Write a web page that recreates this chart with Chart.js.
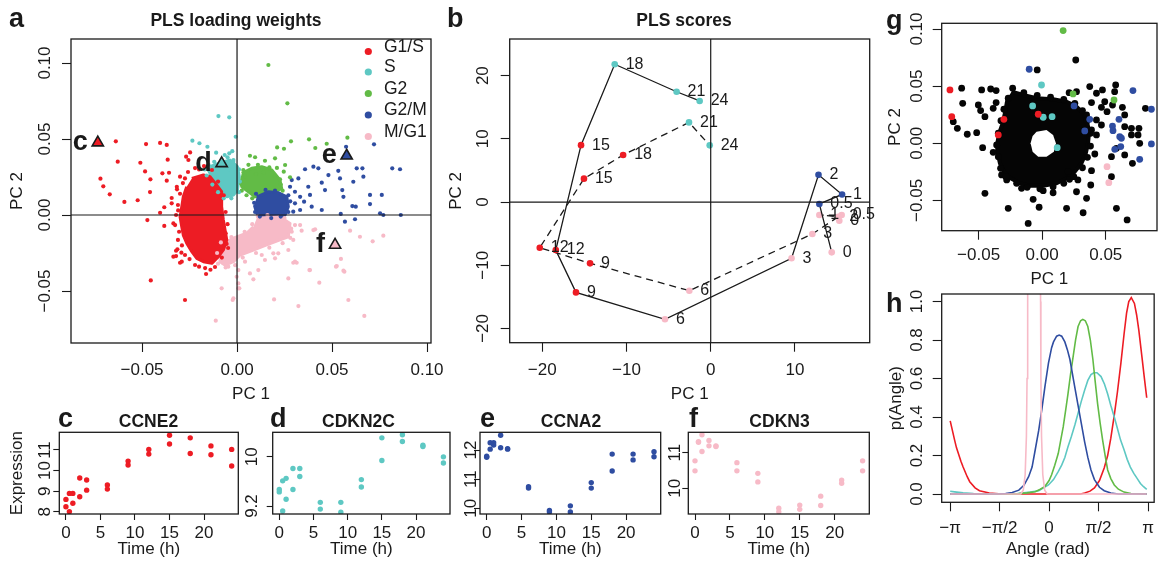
<!DOCTYPE html>
<html>
<head>
<meta charset="utf-8">
<title>PLS loading weights and scores</title>
<script src="https://cdn.jsdelivr.net/npm/chart.js@4.4.1/dist/chart.umd.min.js"></script>
<style>
  html, body { margin: 0; padding: 0; background: #fff; }
  #wrap { position: relative; width: 1161px; height: 562px; overflow: hidden; background: #fff; }
  #wrap canvas { position: absolute; left: 0; top: 0; }
</style>
</head>
<body>
<div id="wrap">
  <canvas id="pa" width="1161" height="562"></canvas>
  <canvas id="pb" width="1161" height="562"></canvas>
  <canvas id="pg" width="1161" height="562"></canvas>
  <canvas id="ph" width="1161" height="562"></canvas>
  <canvas id="pc" width="1161" height="562"></canvas>
  <canvas id="pd" width="1161" height="562"></canvas>
  <canvas id="pe" width="1161" height="562"></canvas>
  <canvas id="pf" width="1161" height="562"></canvas>
</div>
<script>
// ---------- data ----------
const PHASES = ['G1/S', 'S', 'G2', 'G2/M', 'M/G1'];

// panel a: loading weights [PC1, PC2]
const A_XTICKS = [-0.05, 0, 0.05, 0.10];
const A_YTICKS = [-0.05, 0, 0.05, 0.10];
const A_G1S = [[-0.0638,0.0485],[-0.0479,0.0467],[-0.0405,0.0474],[-0.0370,0.0461],[-0.0628,0.0351],[-0.0509,0.0344],[-0.0365,0.0364],[-0.0719,0.0239],[-0.0704,0.0189],[-0.0670,0.0136],[-0.0593,0.0086],[-0.0523,0.0097],[-0.0484,0.0287],[-0.0456,0.0235],[-0.0458,0.0151],[-0.0393,0.0274],[-0.0358,0.0278],[-0.0370,0.0226],[-0.0316,0.0169],[-0.0344,0.0112],[-0.0383,0.0051],[-0.0405,0.0015],[-0.0472,-0.0033],[-0.0383,-0.0072],[-0.0335,-0.0055],[-0.0314,-0.0226],[-0.0321,-0.0270],[-0.0293,-0.0248],[-0.0300,-0.0314],[-0.0163,-0.0388],[-0.0454,-0.0430],[-0.0274,-0.0559],[-0.0268,0.0384],[-0.0247,0.0412],[-0.0256,0.0362],[-0.0300,0.0252],[-0.0274,0.0241],[-0.0317,0.0186],[-0.0344,0.0077],[-0.0335,-0.0274],[-0.0321,-0.0235],[-0.0291,-0.0307],[-0.0326,-0.0066],[-0.0311,-0.0164],[-0.0274,-0.0263],[-0.0221,-0.0329],[-0.0168,-0.0349],[-0.0116,-0.0342],[-0.0047,-0.0217],[-0.0311,0.0066],[-0.0321,0.0000],[-0.0258,0.0283],[-0.0221,0.0309],[-0.0174,0.0322],[-0.0132,0.0296],[-0.0060,-0.0120],[-0.0055,-0.0190],[-0.0080,-0.0280],[-0.0140,-0.0360],[-0.0200,-0.0340],[-0.0250,-0.0290],[-0.0290,-0.0200],[-0.0305,-0.0110],[-0.0310,0.0030],[-0.0300,0.0140],[-0.0285,0.0210],[-0.0200,0.0300],[-0.0100,0.0220],[-0.0070,0.0130],[-0.0060,0.0020],[-0.0050,-0.0060]];
const A_S = [[-0.0098,0.0651],[-0.0041,0.0643],[-0.0007,0.0515],[-0.0235,0.0489],[-0.0198,0.0472],[-0.0156,0.0449],[-0.0041,0.0406],[-0.0019,0.0362],[-0.0150,0.0330],[-0.0120,0.0350],[-0.0080,0.0360],[-0.0050,0.0380],[-0.0020,0.0350],[0.0010,0.0300],[0.0015,0.0220],[0.0010,0.0150],[-0.0030,0.0110],[-0.0070,0.0110],[-0.0100,0.0150],[-0.0130,0.0200],[-0.0160,0.0260],[-0.0170,0.0300],[-0.0110,0.0410],[-0.0065,0.0395],[-0.0025,0.0420],[0.0005,0.0260],[-0.0040,0.0300]];
const A_G2 = [[0.0165,0.0987],[0.0265,0.0735],[0.0211,0.0445],[0.0247,0.0436],[0.0284,0.0485],[0.0379,0.0498],[0.0412,0.0441],[0.0472,0.0469],[0.0581,0.0509],[0.0068,0.0390],[0.0095,0.0380],[0.0147,0.0357],[0.0200,0.0373],[0.0170,0.0314],[0.0253,0.0329],[0.0246,0.0285],[0.0033,0.0296],[0.0042,0.0252],[0.0200,0.0257],[0.0226,0.0235],[0.0279,0.0248],[0.0020,0.0210],[0.0025,0.0160],[0.0050,0.0130],[0.0080,0.0110],[0.0110,0.0330],[0.0140,0.0280],[0.0230,0.0200],[0.0240,0.0160],[0.0060,0.0330],[0.0100,0.0270],[0.0210,0.0310]];
const A_G2M = [[0.0721,0.0465],[0.0574,0.0449],[0.0358,0.0301],[0.0402,0.0318],[0.0428,0.0307],[0.0481,0.0263],[0.0533,0.0291],[0.0630,0.0307],[0.0660,0.0307],[0.0817,0.0307],[0.0858,0.0301],[0.0542,0.0241],[0.0612,0.0219],[0.0665,0.0252],[0.0323,0.0241],[0.0375,0.0186],[0.0446,0.0213],[0.0463,0.0164],[0.0554,0.0164],[0.0560,0.0120],[0.0332,0.0120],[0.0384,0.0132],[0.0305,0.0153],[0.0353,0.0088],[0.0393,0.0055],[0.0446,0.0033],[0.0607,0.0059],[0.0625,0.0055],[0.0700,0.0132],[0.0762,0.0132],[0.0700,0.0072],[0.0753,0.0011],[0.0770,0.0000],[0.0862,0.0000],[0.0546,0.0007],[0.0568,-0.0044],[0.0621,-0.0028],[0.0288,0.0230],[0.0279,0.0186],[0.0305,0.0077],[0.0296,0.0022],[0.0332,0.0033],[0.0100,0.0140],[0.0090,0.0080],[0.0095,0.0020],[0.0120,-0.0010],[0.0180,-0.0020],[0.0230,-0.0010],[0.0270,0.0020],[0.0280,0.0090],[0.0270,0.0130],[0.0150,0.0165],[0.0200,0.0160]];
const A_MG1 = [[0.0305,-0.0066],[0.0332,-0.0066],[0.0411,-0.0094],[0.0595,-0.0103],[0.0647,-0.0143],[0.0714,-0.0173],[0.0770,-0.0136],[0.0547,-0.0289],[0.0521,-0.0340],[0.0560,-0.0366],[0.0381,-0.0362],[0.0305,-0.0307],[0.0314,-0.0314],[0.0433,-0.0445],[0.0270,-0.0417],[0.0195,-0.0555],[0.0323,-0.0599],[0.0586,-0.0559],[0.0670,-0.0664],[0.0147,-0.0296],[0.0112,-0.0362],[0.0068,-0.0384],[0.0086,-0.0423],[0.0042,-0.0307],[0.0007,-0.0362],[-0.0002,-0.0406],[0.0007,-0.0450],[0.0007,-0.0482],[-0.0019,-0.0548],[0.0340,-0.0103],[0.0288,-0.0110],[0.0296,-0.0164],[0.0270,-0.0230],[0.0217,-0.0252],[0.0200,-0.0285],[-0.0072,-0.0318],[-0.0081,-0.0482],[-0.0023,-0.0559],[-0.0112,-0.0695],[-0.0046,-0.0340],[0.0012,-0.0482],[0.0296,-0.0314],[0.0384,-0.0362],[0.0525,-0.0336],[0.0565,-0.0373],[0.0402,-0.0099],[0.0130,-0.0263],[0.0191,-0.0252],[0.0110,-0.0010],[0.0160,0.0000],[0.0250,-0.0020],[0.0285,-0.0090],[0.0280,-0.0150],[0.0240,-0.0185],[0.0170,-0.0215],[0.0100,-0.0250],[0.0030,-0.0280],[-0.0010,-0.0330],[-0.0060,-0.0345],[-0.0100,-0.0320],[-0.0105,-0.0250],[-0.0085,-0.0180],[-0.0030,-0.0145],[0.0040,-0.0110],[0.0080,-0.0060]];
// outlines of the densest part of each cloud
const A_G1S_CORE = [[-0.0238,0.0241],[-0.0177,0.0263],[-0.0142,0.0252],[-0.0107,0.0197],[-0.0081,0.0153],[-0.0081,0.0055],[-0.0072,-0.0033],[-0.0063,-0.0099],[-0.0054,-0.0164],[-0.0072,-0.0230],[-0.0098,-0.0274],[-0.0133,-0.0318],[-0.0177,-0.0307],[-0.0212,-0.0285],[-0.0238,-0.0241],[-0.0265,-0.0186],[-0.0283,-0.0132],[-0.0291,-0.0077],[-0.0300,-0.0011],[-0.0291,0.0055],[-0.0283,0.0120],[-0.0265,0.0186]];
const A_S_CORE = [[-0.0142,0.0318],[-0.0098,0.0340],[-0.0037,0.0362],[0.0002,0.0318],[0.0012,0.0252],[0.0002,0.0164],[-0.0019,0.0132],[-0.0054,0.0120],[-0.0081,0.0153],[-0.0107,0.0197],[-0.0133,0.0252],[-0.0151,0.0296]];
const A_G2_CORE = [[0.0025,0.0274],[0.0077,0.0307],[0.0130,0.0318],[0.0183,0.0296],[0.0226,0.0230],[0.0235,0.0175],[0.0183,0.0142],[0.0130,0.0120],[0.0095,0.0120],[0.0060,0.0153],[0.0025,0.0186],[0.0016,0.0230]];
const A_G2M_CORE = [[0.0104,0.0120],[0.0165,0.0153],[0.0217,0.0147],[0.0262,0.0120],[0.0270,0.0055],[0.0253,0.0000],[0.0200,-0.0015],[0.0147,-0.0011],[0.0104,0.0011],[0.0091,0.0066]];
const A_MG1_CORE = [[0.0104,-0.0022],[0.0226,-0.0011],[0.0279,-0.0055],[0.0270,-0.0143],[0.0226,-0.0164],[0.0156,-0.0197],[0.0086,-0.0230],[0.0016,-0.0263],[-0.0019,-0.0307],[-0.0063,-0.0329],[-0.0089,-0.0307],[-0.0093,-0.0252],[-0.0072,-0.0186],[-0.0019,-0.0153],[0.0051,-0.0120],[0.0086,-0.0077]];
const A_MARK = [[-0.0733,0.0476],[-0.0081,0.0340],[0.0577,0.0390],[0.0516,-0.0197]];
const A_MARK_LABELS = ['c', 'd', 'e', 'f'];
const A_MARK_PHASE = ['G1/S', 'S', 'G2/M', 'M/G1'];

// panel b: PLS scores of the two time courses
const B_TIMES = ['0', '0.5', '1', '2', '3', '6', '9', '12', '15', '18', '21', '24'];
const B_SOLID_X = [14.37, 12.9, 15.6, 12.8, 9.6, -5.43, -16.0, -18.4, -15.4, -11.4, -4.05, -1.31];
const B_SOLID_Y = [-7.96, -0.3, 1.2, 4.3, -8.9, -18.56, -14.3, -7.6, 9.0, 21.8, 17.45, 16.0];
const B_SOLID_PHASE = ['M/G1', 'G2/M', 'G2/M', 'G2/M', 'M/G1', 'M/G1', 'G1/S', 'G1/S', 'G1/S', 'S', 'S', 'S'];
const B_DASH_X = [15.27, 15.55, 12.9, 15.16, 12.07, -2.54, -14.33, -20.3, -15.05, -10.4, -2.58, -0.12];
const B_DASH_Y = [-2.95, -2.06, -2.06, -2.32, -5.06, -14.03, -9.7, -7.23, 3.7, 7.44, 12.6, 8.97];
const B_DASH_PHASE = ['M/G1', 'M/G1', 'M/G1', 'M/G1', 'M/G1', 'M/G1', 'G1/S', 'G1/S', 'G1/S', 'G1/S', 'S', 'S'];
const B_XTICKS = [-20, -10, 0, 10];
const B_YTICKS = [-20, -10, 0, 10, 20];

// panel g: all genes, black; marker genes coloured
const G_TICKS_X = [-0.05, 0, 0.05];
const G_TICKS_Y = [-0.05, 0, 0.05, 0.10];
const G_OTHER = [[-0.0633,0.0482],[-0.0476,0.0467],[-0.0405,0.0475],[-0.0362,0.0461],[-0.0625,0.0350],[-0.0502,0.0335],[-0.0484,0.0286],[-0.0450,0.0233],[-0.0699,0.0189],[-0.0667,0.0131],[-0.0589,0.0079],[-0.0515,0.0093],[-0.0468,-0.0038],[-0.0385,-0.0079],[-0.0362,0.0356],[-0.0385,0.0306],[-0.0450,-0.0438],[-0.0267,-0.0569],[-0.0110,-0.0701],[-0.0071,-0.0490],[-0.0024,-0.0560],[0.0008,-0.0415],[0.0086,-0.0433],[0.0192,-0.0569],[0.0270,-0.0424],[0.0322,-0.0608],[0.0382,-0.0365],[0.0388,-0.0240],[0.0414,-0.0094],[0.0215,-0.0315],[0.0281,-0.0321],[0.0204,-0.0248],[0.0584,-0.0569],[0.0668,-0.0671],[0.0545,-0.0292],[0.0584,-0.0044],[0.0649,-0.0102],[0.0710,-0.0175],[0.0767,0.0000],[0.0754,0.0073],[0.0702,0.0073],[0.0761,0.0131],[0.0702,0.0131],[0.0649,0.0145],[0.0631,0.0315],[0.0649,0.0248],[0.0812,0.0306],[0.0578,0.0510],[0.0570,0.0452],[0.0553,0.0335],[0.0510,0.0277],[0.0466,0.0315],[0.0492,0.0364],[0.0427,0.0438],[0.0474,0.0467],[0.0374,0.0496],[0.0388,0.0356],[0.0349,0.0248],[0.0427,0.0204],[0.0466,0.0160],[0.0388,0.0117],[0.0427,0.0073],[0.0270,0.0452],[0.0212,0.0443],[0.0264,0.0729],[-0.0039,0.0642],[0.0545,-0.0117],[0.0349,-0.0482],[-0.0162,-0.0394],[-0.0319,-0.0277],[-0.0279,-0.0321],[-0.0345,-0.0117],[-0.0327,-0.0219],[-0.0285,-0.0292],[-0.0201,-0.0350],[-0.0118,-0.0385],[-0.0018,-0.0398],[0.0086,-0.0380],[0.0170,-0.0350],[0.0249,-0.0292],[0.0317,-0.0214],[0.0356,-0.0123],[0.0380,-0.0024],[0.0380,0.0088],[0.0353,0.0198],[0.0317,0.0286],[0.0257,0.0350],[0.0170,0.0385],[0.0066,0.0403],[-0.0039,0.0420],[-0.0144,0.0443],[-0.0232,0.0482],[-0.0267,0.0394],[-0.0301,0.0298],[-0.0324,0.0198],[-0.0345,0.0088],[-0.0358,-0.0015]];
const G_CORE = [[-0.0240,0.0452],[-0.0149,0.0423],[-0.0044,0.0394],[0.0086,0.0385],[0.0192,0.0364],[0.0270,0.0321],[0.0322,0.0263],[0.0353,0.0189],[0.0369,0.0102],[0.0361,0.0000],[0.0343,-0.0088],[0.0309,-0.0175],[0.0257,-0.0248],[0.0192,-0.0306],[0.0113,-0.0350],[0.0008,-0.0371],[-0.0097,-0.0371],[-0.0175,-0.0350],[-0.0248,-0.0306],[-0.0301,-0.0248],[-0.0332,-0.0175],[-0.0350,-0.0088],[-0.0353,0.0000],[-0.0338,0.0088],[-0.0311,0.0175],[-0.0293,0.0263],[-0.0279,0.0350],[-0.0267,0.0408]];
const G_HOLE = [[-0.0044,0.0102],[0.0034,0.0117],[0.0086,0.0073],[0.0108,0.0000],[0.0092,-0.0073],[0.0034,-0.0117],[-0.0031,-0.0117],[-0.0075,-0.0073],[-0.0091,0.0000],[-0.0075,0.0064]];
const G_G1S = [[-0.0725,0.0467],[-0.0711,0.0233],[-0.0301,0.0210],[-0.0345,0.0073],[-0.0031,0.0254]];
const G_S = [[-0.0005,0.0510],[-0.0075,0.0327],[0.0008,0.0228],[0.0078,0.0233],[0.0118,-0.0038]];
const G_G2 = [[0.0165,0.0986],[0.0243,0.0432],[0.0565,0.0379]];
const G_G2M = [[-0.0102,0.0648],[0.0251,0.0327],[0.0374,0.0210],[0.0335,0.0108],[0.0714,0.0461],[0.0859,0.0298],[0.0604,0.0210],[0.0553,0.0151],[0.0557,0.0110],[0.0610,0.0058],[0.0623,0.0044],[0.0571,-0.0053],[0.0618,-0.0029],[0.0767,-0.0140],[0.0859,-0.0006]];
const G_MG1 = [[0.0510,-0.0205],[0.0524,-0.0345]];

// panel h: density of the angle per phase [angle, p]
const H_XTICKS = [-Math.PI, -Math.PI / 2, 0, Math.PI / 2, Math.PI];
const H_XLABELS = ['\u2212\u03c0', '\u2212\u03c0/2', '0', '\u03c0/2', '\u03c0'];
const H_YTICKS = [0, 0.2, 0.4, 0.6, 0.8, 1.0];
const H_G1S = [[-3.14,0.38],[-3.0,0.28],[-2.94,0.24],[-2.8,0.17],[-2.73,0.14],[-2.6,0.09],[-2.52,0.064],[-2.35,0.032],[-2.21,0.017],[-1.9,0.005],[-1.5,0],[1.0,0],[1.13,0.005],[1.3,0.015],[1.44,0.032],[1.6,0.07],[1.75,0.135],[1.86,0.2],[1.96,0.29],[2.07,0.41],[2.17,0.53],[2.28,0.68],[2.38,0.83],[2.46,0.94],[2.53,1.0],[2.61,1.02],[2.71,0.99],[2.78,0.93],[2.85,0.85],[2.95,0.71],[3.02,0.61],[3.10,0.50]];
const H_S = [[-3.14,0.014],[-3.0,0.011],[-2.73,0.006],[-2.4,0.003],[-2.0,0.001],[-1.5,0],[-1.0,0.003],[-0.6,0.01],[-0.33,0.017],[-0.02,0.047],[0.14,0.075],[0.29,0.116],[0.40,0.15],[0.50,0.19],[0.60,0.245],[0.71,0.30],[0.82,0.36],[0.92,0.42],[1.02,0.48],[1.13,0.54],[1.23,0.59],[1.33,0.62],[1.42,0.63],[1.52,0.63],[1.65,0.61],[1.76,0.57],[1.86,0.52],[1.96,0.46],[2.07,0.40],[2.17,0.34],[2.27,0.28],[2.38,0.23],[2.48,0.18],[2.58,0.14],[2.69,0.107],[2.80,0.08],[2.90,0.055],[3.0,0.038],[3.10,0.024]];
const H_G2 = [[-3.14,0],[-1.2,0],[-0.96,0.002],[-0.7,0.006],[-0.44,0.012],[-0.28,0.025],[-0.13,0.04],[0.0,0.07],[0.08,0.10],[0.18,0.15],[0.29,0.21],[0.37,0.28],[0.45,0.35],[0.53,0.44],[0.60,0.52],[0.68,0.62],[0.76,0.71],[0.84,0.80],[0.92,0.87],[1.0,0.90],[1.07,0.907],[1.15,0.90],[1.23,0.87],[1.31,0.80],[1.39,0.70],[1.46,0.59],[1.54,0.47],[1.62,0.37],[1.70,0.28],[1.78,0.20],[1.86,0.125],[1.96,0.08],[2.07,0.047],[2.2,0.025],[2.38,0.01],[2.6,0.003],[3.10,0]];
const H_G2M = [[-3.14,0],[-1.6,0],[-1.38,0.003],[-1.17,0.008],[-0.96,0.02],[-0.8,0.045],[-0.65,0.09],[-0.54,0.14],[-0.44,0.23],[-0.33,0.33],[-0.23,0.44],[-0.13,0.56],[-0.02,0.68],[0.08,0.76],[0.14,0.79],[0.24,0.82],[0.32,0.826],[0.40,0.82],[0.50,0.79],[0.58,0.75],[0.66,0.70],[0.81,0.56],[0.92,0.46],[1.02,0.37],[1.13,0.27],[1.23,0.19],[1.33,0.125],[1.44,0.075],[1.6,0.035],[1.75,0.017],[1.96,0.005],[2.2,0],[3.10,0]];
const H_MG1 = [[-3.14,0],[-0.9,0],[-0.82,0.02],[-0.76,0.1],[-0.72,0.3],[-0.70,0.6],[-0.69,1.0],[-0.67,1.6],[-0.48,6],[-0.29,1.6],[-0.27,1.0],[-0.26,0.6],[-0.24,0.3],[-0.20,0.1],[-0.14,0.02],[-0.06,0],[3.10,0]];

// panels c-f: expression over time, two replicates
const T_HOURS = [0, 0, 0.5, 0.5, 1, 1, 2, 2, 3, 3, 6, 6, 9, 9, 12, 12, 15, 15, 18, 18, 21, 21, 24, 24];
const T_TICKS = [0, 5, 10, 15, 20];
const CCNE2 = [8.60, 8.24, 8.0, 8.89, 8.89, 8.41, 8.73, 9.64, 9.54, 9.05, 9.30, 9.10, 10.46, 10.27, 11.03, 10.80, 11.72, 11.29, 11.59, 10.83, 11.20, 10.77, 11.03, 10.22];
const CDKN2C = [9.47, 9.43, 9.12, 9.61, 9.31, 9.65, 9.47, 9.81, 9.81, 9.68, 9.26, 9.15, 9.26, 9.10, 9.63, 9.51, 10.31, 9.94, 10.36, 10.25, 10.19, 10.17, 10.0, 9.90];
const CCNA2 = [11.79, 11.75, 12.03, 12.25, 12.25, 12.17, 12.51, 12.08, 12.03, 12.05, 10.74, 10.69, 9.92, 9.87, 10.08, 9.87, 10.88, 10.69, 11.86, 11.28, 11.86, 11.66, 11.94, 11.77];
const CDKN3 = [10.77, 10.49, 11.31, 11.29, 11.50, 11.03, 11.34, 11.19, 11.19, 11.17, 10.72, 10.49, 10.42, 10.18, 9.44, 9.34, 9.53, 9.41, 9.78, 9.52, 10.23, 10.14, 10.77, 10.49];

// ---------- style ----------
const FONT = "'Liberation Sans', Arial, Helvetica, sans-serif";
const INK = '#1a1a1a';
const COL = { 'G1/S': '#ED1C24', 'S': '#5EC8C3', 'G2': '#62BB46', 'G2/M': '#2F4DA1', 'M/G1': '#F7BAC7' };
const BIG = 'bold 27px ' + FONT;
const HEAD = 'bold 17.5px ' + FONT;
const W = 1161, H = 562, LH = 17 * 1.2;

Chart.defaults.font.family = FONT;
Chart.defaults.font.size = 17;
Chart.defaults.color = INK;

const pts = arr => arr.map(p => ({ x: p[0], y: p[1] }));
const zip = (xs, ys) => xs.map((x, i) => ({ x, y: ys[i] }));
const minus = s => s.replace('-', '\u2212');
const fix2 = v => minus(v.toFixed(2));
const fix1 = v => minus(v.toFixed(1));
const int = v => minus(String(v));

function dots(data, color, r, order) {
  return { data, pointRadius: r, pointBackgroundColor: color, pointBorderWidth: 0, backgroundColor: color, order };
}
function blob(arr, color, order, bw) {
  return { type: 'line', data: pts(arr), fill: 'shape', backgroundColor: color, borderColor: color,
           borderWidth: bw, borderJoinStyle: 'round', pointRadius: 0, order };
}
function curve(arr, color, order) {
  return { type: 'line', data: pts(arr), borderColor: color, borderWidth: 1.6, pointRadius: 0, fill: false, order };
}

// box, zero lines, rotated y tick labels, point labels, texts, legend
function deco(p) {
  return {
    id: 'deco',
    afterDatasetsDraw(chart) {
      const { ctx, chartArea: a, scales: { x, y } } = chart;
      ctx.save();
      if (p.zero) {
        const zx = x.getPixelForValue(0), zy = y.getPixelForValue(0);
        ctx.strokeStyle = INK;
        ctx.lineWidth = 1.2;
        ctx.beginPath();
        ctx.moveTo(zx, a.top); ctx.lineTo(zx, a.bottom);
        ctx.moveTo(a.left, zy); ctx.lineTo(a.right, zy);
        ctx.stroke();
      }
      (p.labelSets || []).forEach(s => {
        ctx.font = s.font;
        ctx.fillStyle = INK;
        ctx.textAlign = s.align;
        ctx.textBaseline = s.baseline;
        s.pts.forEach((q, i) => {
          ctx.fillText(s.labels[i], x.getPixelForValue(q.x) + s.dx, y.getPixelForValue(q.y) + s.dy);
        });
      });
      ctx.restore();
    },
    afterDraw(chart) {
      const { ctx, chartArea: a, scales: { y } } = chart;
      ctx.save();
      ctx.strokeStyle = INK;
      ctx.lineWidth = 1.3;
      ctx.strokeRect(a.left, a.top, a.right - a.left, a.bottom - a.top);
      ctx.fillStyle = INK;
      ctx.font = '17px ' + FONT;
      ctx.textAlign = 'center';
      ctx.textBaseline = 'middle';
      p.y.ticks.forEach(v => {
        ctx.save();
        ctx.translate(p.y.labelX, y.getPixelForValue(v));
        ctx.rotate(-Math.PI / 2);
        ctx.fillText(p.y.fmt(v), 0, 0);
        ctx.restore();
      });
      (p.notes || []).forEach(n => {
        ctx.font = n.font;
        ctx.textAlign = n.align || 'left';
        ctx.textBaseline = 'alphabetic';
        ctx.fillText(n.text, n.x, n.y);
      });
      if (p.legend) {
        const lg = p.legend;
        ctx.font = '17.5px ' + FONT;
        ctx.textAlign = 'left';
        lg.items.forEach((name, i) => {
          ctx.fillStyle = COL[name];
          ctx.beginPath();
          ctx.arc(lg.x, lg.ys[i], 3.6, 0, Math.PI * 2);
          ctx.fill();
          ctx.fillStyle = INK;
          ctx.fillText(name, lg.tx, lg.ys[i]);
        });
      }
      ctx.restore();
    }
  };
}

function panel(id, p) {
  const [L, T, R, B] = p.box;
  const tl = p.tl || 9;
  const yW = p.y.title ? L - (p.y.titleX - LH / 2) : 30;
  const xH = p.x.titleY - B + LH / 2;
  return new Chart(document.getElementById(id), {
    type: 'scatter',
    data: { datasets: p.datasets },
    options: {
      responsive: false, animation: false, devicePixelRatio: 1, events: [],
      layout: { padding: { left: L - yW, top: T, right: W - R, bottom: H - B - xH } },
      plugins: { legend: { display: false }, tooltip: { enabled: false } },
      scales: {
        x: {
          type: 'linear', position: 'bottom', min: p.x.min, max: p.x.max,
          afterBuildTicks: sc => { sc.ticks = p.x.ticks.map(v => ({ value: v })); },
          afterFit: sc => { sc.height = xH; },
          ticks: { autoSkip: false, maxRotation: 0, minRotation: 0, padding: p.x.labelY - B - tl - LH / 2,
                   callback: v => p.x.fmt(v), color: INK, font: { size: 17 } },
          grid: { drawOnChartArea: false, drawTicks: true, tickLength: tl, tickColor: INK, tickWidth: 1.1 },
          border: { display: false },
          title: { display: true, text: p.x.title, padding: 0, color: INK, font: { size: 17 } }
        },
        y: {
          type: 'linear', position: 'left', min: p.y.min, max: p.y.max,
          afterBuildTicks: sc => { sc.ticks = p.y.ticks.map(v => ({ value: v })); },
          afterFit: sc => { sc.width = yW; },
          ticks: { display: false },
          grid: { drawOnChartArea: false, drawTicks: true, tickLength: tl, tickColor: INK, tickWidth: 1.1 },
          border: { display: false },
          title: { display: !!p.y.title, text: p.y.title || '', padding: 0, color: INK, font: { size: 17 } }
        }
      }
    },
    plugins: [deco(p)]
  });
}

// ---------- a ----------
panel('pa', {
  box: [71, 39, 431, 343], zero: true,
  x: { min: -0.0874, max: 0.1021, ticks: A_XTICKS, fmt: fix2, labelY: 370.5, title: 'PC 1', titleY: 394 },
  y: { min: -0.0842, max: 0.1158, ticks: A_YTICKS, fmt: fix2, labelX: 45, title: 'PC 2', titleX: 17 },
  datasets: [
    blob(A_G1S_CORE, COL['G1/S'], 30, 3),
    blob(A_MG1_CORE, COL['M/G1'], 31, 3),
    blob(A_G2M_CORE, COL['G2/M'], 32, 3),
    blob(A_G2_CORE, COL['G2'], 33, 3),
    blob(A_S_CORE, COL['S'], 34, 3),
    dots(pts(A_G1S), COL['G1/S'], 2.1, 10),
    dots(pts(A_S), COL['S'], 2.1, 11),
    dots(pts(A_G2), COL['G2'], 2.1, 12),
    dots(pts(A_G2M), COL['G2/M'], 2.1, 13),
    dots(pts(A_MG1), COL['M/G1'], 2.1, 14),
    { data: pts(A_MARK), pointStyle: 'triangle', pointRadius: 6.5,
      pointBackgroundColor: A_MARK_PHASE.map(k => COL[k]), pointBorderColor: INK, pointBorderWidth: 1.6, order: 1 }
  ],
  labelSets: [{ pts: pts(A_MARK), labels: A_MARK_LABELS, dx: -10, dy: 7.5, align: 'right', baseline: 'alphabetic', font: BIG }],
  notes: [{ text: 'a', x: 9, y: 27, font: BIG },
          { text: 'PLS loading weights', x: 236, y: 26, font: HEAD, align: 'center' }],
  legend: { items: PHASES, x: 368.3, tx: 384, ys: [51.5, 72, 93.5, 115, 136.5] }
});

// ---------- b ----------
const bSolid = zip(B_SOLID_X, B_SOLID_Y);
const bDash = zip(B_DASH_X, B_DASH_Y);
panel('pb', {
  box: [509.7, 39, 869.7, 342.7], zero: true,
  x: { min: -23.87, max: 18.88, ticks: B_XTICKS, fmt: int, labelY: 370.5, title: 'PC 1', titleY: 394 },
  y: { min: -22.26, max: 25.8, ticks: B_YTICKS, fmt: int, labelX: 483, title: 'PC 2', titleX: 456 },
  datasets: [
    { type: 'line', data: bSolid, borderColor: INK, borderWidth: 1.3, fill: false,
      pointRadius: 3.3, pointBorderWidth: 0, pointBackgroundColor: B_SOLID_PHASE.map(k => COL[k]), order: 2 },
    { type: 'line', data: bDash, borderColor: INK, borderWidth: 1.3, borderDash: [7, 5], fill: false,
      pointRadius: 3.3, pointBorderWidth: 0, pointBackgroundColor: B_DASH_PHASE.map(k => COL[k]), order: 3 }
  ],
  labelSets: [
    { pts: bSolid, labels: B_TIMES, dx: 11, dy: 0, align: 'left', baseline: 'middle', font: '16px ' + FONT },
    { pts: bDash, labels: B_TIMES, dx: 11, dy: 0, align: 'left', baseline: 'middle', font: '16px ' + FONT }
  ],
  notes: [{ text: 'b', x: 447, y: 27, font: BIG },
          { text: 'PLS scores', x: 684, y: 26, font: HEAD, align: 'center' }]
});

// ---------- g ----------
panel('pg', {
  box: [941.7, 23.3, 1157.3, 230.7],
  x: { min: -0.079, max: 0.0903, ticks: G_TICKS_X, fmt: fix2, labelY: 255.5, title: 'PC 1', titleY: 279 },
  y: { min: -0.0765, max: 0.105, ticks: G_TICKS_Y, fmt: fix2, labelX: 917, title: 'PC 2', titleX: 895 },
  datasets: [
    blob(G_CORE, '#050505', 40, 4),
    blob(G_HOLE, '#ffffff', 39, 0),
    dots(pts(G_OTHER), '#050505', 3.4, 20),
    dots(pts(G_G1S), COL['G1/S'], 3.4, 10),
    dots(pts(G_S), COL['S'], 3.4, 11),
    dots(pts(G_G2), COL['G2'], 3.4, 12),
    dots(pts(G_G2M), COL['G2/M'], 3.4, 13),
    dots(pts(G_MG1), COL['M/G1'], 3.4, 14)
  ],
  notes: [{ text: 'g', x: 886, y: 29, font: BIG }]
});

// ---------- h ----------
panel('ph', {
  box: [941.7, 294, 1157.3, 502.3],
  x: { min: -3.41, max: 3.336, ticks: H_XTICKS, fmt: v => H_XLABELS[H_XTICKS.indexOf(v)], labelY: 528.5, title: 'Angle (rad)', titleY: 549 },
  y: { min: -0.043, max: 1.039, ticks: H_YTICKS, fmt: fix1, labelX: 917, title: 'p(Angle)', titleX: 896 },
  datasets: [
    curve(H_G1S, COL['G1/S'], 5),
    curve(H_S, COL['S'], 4),
    curve(H_G2, COL['G2'], 3),
    curve(H_G2M, COL['G2/M'], 2),
    curve(H_MG1, COL['M/G1'], 1)
  ],
  notes: [{ text: 'h', x: 886, y: 312, font: BIG }]
});

// ---------- c-f ----------
const timeX = { min: -0.96, max: 24.96, ticks: T_TICKS, fmt: int, labelY: 533.5, title: 'Time (h)', titleY: 549.5 };
function gene(id, box, values, phase, y, letter, name, lx, nx) {
  panel(id, {
    box, tl: 6, x: timeX, y,
    datasets: [dots(zip(T_HOURS, values), COL[phase], 2.7, 1)],
    notes: [{ text: letter, x: lx, y: 427, font: BIG },
            { text: name, x: nx, y: 427, font: HEAD, align: 'center' }]
  });
}
gene('pc', [59.3, 432.3, 238.3, 514], CCNE2, 'G1/S',
     { min: 7.89, max: 11.86, ticks: [8, 9, 10, 11], fmt: int, labelX: 45, title: 'Expression', titleX: 17 },
     'c', 'CCNE2', 58, 148.5);
gene('pd', [272.7, 432.3, 450, 514], CDKN2C, 'S',
     { min: 9.07, max: 10.40, ticks: [9.2, 10], fmt: v => (v === 10 ? '10' : v.toFixed(1)), labelX: 252 },
     'd', 'CDKN2C', 270, 358.5);
gene('pe', [480, 432.3, 660.7, 514], CCNA2, 'G2/M',
     { min: 9.80, max: 12.61, ticks: [10, 11, 12], fmt: int, labelX: 471.5 },
     'e', 'CCNA2', 480, 571);
gene('pf', [688.3, 432.3, 869.3, 514], CDKN3, 'M/G1',
     { min: 9.28, max: 11.57, ticks: [10, 11], fmt: int, labelX: 675 },
     'f', 'CDKN3', 689, 779.5);
</script>
</body>
</html>
